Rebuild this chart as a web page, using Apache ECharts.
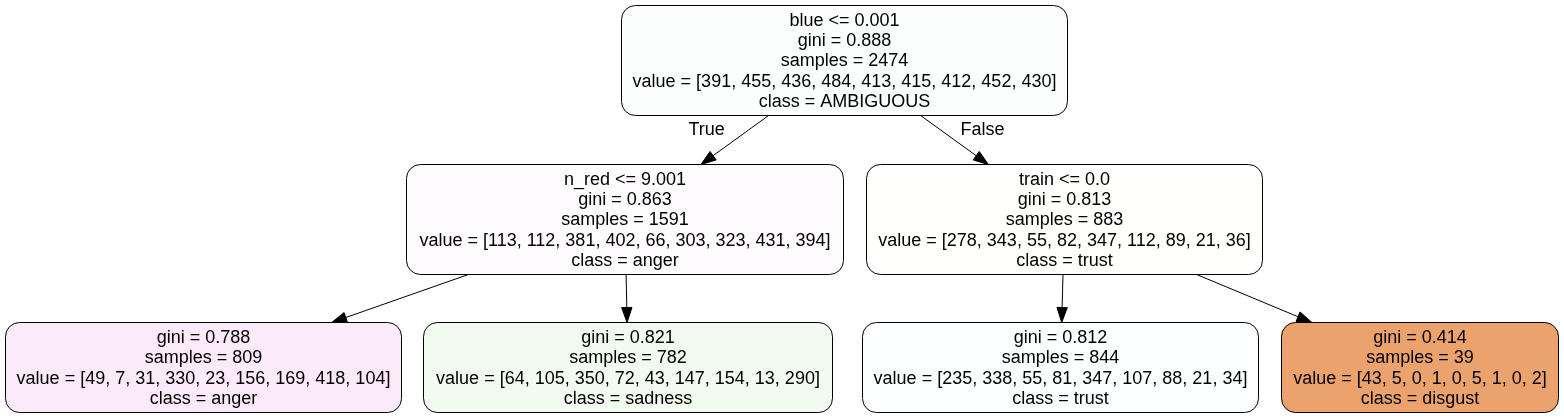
<!DOCTYPE html>
<html lang="en">

<head>
    <meta charset="UTF-8">
    <title>Decision tree</title>
    <script src="https://cdn.jsdelivr.net/npm/echarts@6/dist/echarts.min.js"></script>
    <style>
        html, body { margin: 0; padding: 0; background: #fff; }
        #main { width: 1564px; height: 419px; }
    </style>
</head>

<body>
    <div id="main"></div>

    <script>
        // node contents (root, level 1, leaves)
        var splitRules = ["blue <= 0.001", "n_red <= 9.001", "train <= 0.0", null, null, null, null];
        var giniValues = ["0.888", "0.863", "0.813", "0.788", "0.821", "0.812", "0.414"];
        var sampleCounts = [2474, 1591, 883, 809, 782, 844, 39];
        var classValues = [
            [391, 455, 436, 484, 413, 415, 412, 452, 430],
            [113, 112, 381, 402, 66, 303, 323, 431, 394],
            [278, 343, 55, 82, 347, 112, 89, 21, 36],
            [49, 7, 31, 330, 23, 156, 169, 418, 104],
            [64, 105, 350, 72, 43, 147, 154, 13, 290],
            [235, 338, 55, 81, 347, 107, 88, 21, 34],
            [43, 5, 0, 1, 0, 5, 1, 0, 2]
        ];
        var classNames = ["AMBIGUOUS", "anger", "trust", "anger", "sadness", "trust", "disgust"];
        var edgePairs = [[0, 1], [0, 2], [1, 3], [1, 4], [2, 5], [2, 6]];
        var edgeLabels = ["True", "False", "", "", "", ""];

        // layout: box corners in page pixels, and fills
        var nodeBoxes = [
            [621.5, 5.5, 1067.5, 115.5],
            [406.5, 164.5, 843.5, 274.5],
            [866.5, 164.5, 1262.5, 274.5],
            [5.5, 322.5, 401.5, 412.5],
            [423.5, 322.5, 832.5, 412.5],
            [862.5, 322.5, 1258.5, 412.5],
            [1281.5, 322.5, 1558.5, 412.5]
        ];
        var nodeFills = ["#fcfefd", "#fefcff", "#fffffe", "#fbeafa", "#f2fbef", "#fdfffe", "#eca26d"];

        var FONT = 'Liberation Sans, Arial, sans-serif';

        function nodeText(i) {
            var lines = [];
            if (splitRules[i]) lines.push(splitRules[i]);
            lines.push("gini = " + giniValues[i]);
            lines.push("samples = " + sampleCounts[i]);
            lines.push("value = [" + classValues[i].join(", ") + "]");
            lines.push("class = " + classNames[i]);
            return lines.join("\n");
        }

        var myChart = echarts.init(document.getElementById('main'), null, { renderer: 'canvas' });

        var option = {
            backgroundColor: '#ffffff',
            animation: false,
            grid: { left: 0, right: 0, top: 0, bottom: 0 },
            xAxis: { type: 'value', min: 0, max: 1564, show: false },
            yAxis: { type: 'value', min: 0, max: 419, inverse: true, show: false },
            series: [
                {
                    // edges, center to center, clipped at box borders
                    type: 'custom',
                    coordinateSystem: 'cartesian2d',
                    clip: false,
                    silent: true,
                    z: 1,
                    data: edgePairs.map(function (p, k) { return [p[0], p[1], k]; }),
                    encode: { x: -1, y: -1 },
                    renderItem: function (params, api) {
                        var a = nodeBoxes[api.value(0)];
                        var b = nodeBoxes[api.value(1)];
                        var k = api.value(2);
                        var ca = api.coord([(a[0] + a[2]) / 2, (a[1] + a[3]) / 2]);
                        var cb = api.coord([(b[0] + b[2]) / 2, (b[1] + b[3]) / 2]);
                        var yStart = api.coord([0, a[3]])[1];
                        var yEnd = api.coord([0, b[1]])[1];
                        var dx = cb[0] - ca[0], dy = cb[1] - ca[1];
                        var p0 = [ca[0] + dx * (yStart - ca[1]) / dy, yStart];
                        var p1 = [ca[0] + dx * (yEnd - ca[1]) / dy, yEnd];
                        var len = Math.sqrt(Math.pow(p1[0] - p0[0], 2) + Math.pow(p1[1] - p0[1], 2));
                        var ux = (p1[0] - p0[0]) / len, uy = (p1[1] - p0[1]) / len;
                        var headLen = 15, headHalf = 5.2;
                        var base = [p1[0] - ux * headLen, p1[1] - uy * headLen];
                        var children = [
                            {
                                type: 'line',
                                shape: { x1: p0[0], y1: p0[1], x2: base[0], y2: base[1] },
                                style: { stroke: '#000', lineWidth: 1 }
                            },
                            {
                                type: 'polygon',
                                shape: {
                                    points: [
                                        p1,
                                        [base[0] - uy * headHalf, base[1] + ux * headHalf],
                                        [base[0] + uy * headHalf, base[1] - ux * headHalf]
                                    ]
                                },
                                style: { fill: '#000', stroke: '#000', lineWidth: 1 }
                            }
                        ];
                        if (edgeLabels[k]) {
                            var side = dx < 0 ? -1 : 1;
                            children.push({
                                type: 'text',
                                style: {
                                    text: edgeLabels[k],
                                    x: p0[0] + side * 62,
                                    y: p0[1] + 15,
                                    align: 'center',
                                    verticalAlign: 'middle',
                                    fontFamily: FONT,
                                    fontSize: 18,
                                    fill: '#000'
                                }
                            });
                        }
                        return { type: 'group', children: children };
                    }
                },
                {
                    // nodes
                    type: 'custom',
                    coordinateSystem: 'cartesian2d',
                    clip: false,
                    silent: true,
                    z: 2,
                    data: nodeBoxes.map(function (b, i) { return [b[0], b[1], b[2], b[3], i]; }),
                    encode: { x: [0, 2], y: [1, 3] },
                    renderItem: function (params, api) {
                        var i = api.value(4);
                        var tl = api.coord([api.value(0), api.value(1)]);
                        var br = api.coord([api.value(2), api.value(3)]);
                        return {
                            type: 'group',
                            children: [
                                {
                                    type: 'rect',
                                    shape: { x: tl[0], y: tl[1], width: br[0] - tl[0], height: br[1] - tl[1], r: 14 },
                                    style: { fill: nodeFills[i], stroke: '#000', lineWidth: 1 }
                                },
                                {
                                    type: 'text',
                                    style: {
                                        text: nodeText(i),
                                        x: (tl[0] + br[0]) / 2,
                                        y: (tl[1] + br[1]) / 2 + 1,
                                        align: 'center',
                                        verticalAlign: 'middle',
                                        fontFamily: FONT,
                                        fontSize: 18,
                                        lineHeight: 20.3,
                                        fill: '#000'
                                    }
                                }
                            ]
                        };
                    }
                }
            ]
        };

        myChart.setOption(option);
    </script>
</body>

</html>
